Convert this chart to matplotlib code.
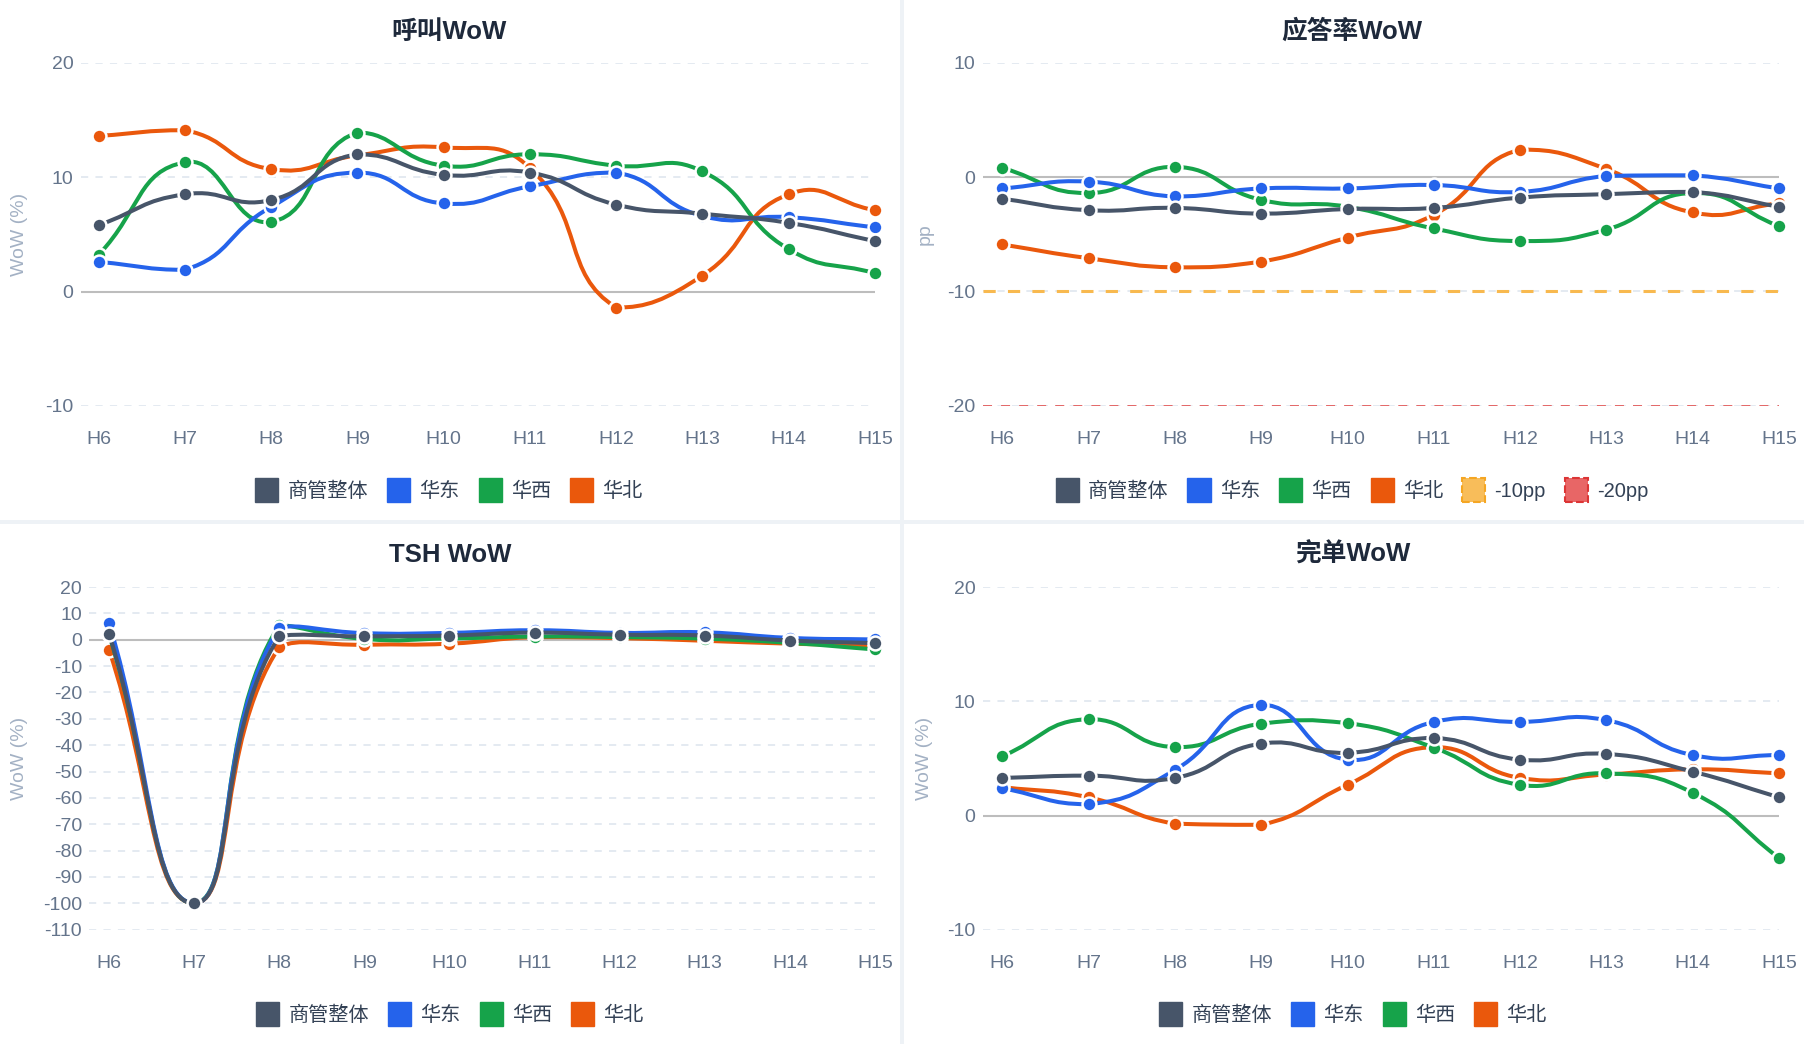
import numpy as np
import matplotlib
matplotlib.use('Agg')
import matplotlib.pyplot as plt
from matplotlib.path import Path
from matplotlib.patches import PathPatch, Patch, Rectangle

plt.rcParams['font.family'] = ['Liberation Sans', 'Noto Sans CJK SC', 'DejaVu Sans']

# ---- data ----
weeks = ['H6', 'H7', 'H8', 'H9', 'H10', 'H11', 'H12', 'H13', 'H14', 'H15']
series_names = ['商管整体', '华东', '华西', '华北']

call_overall = [5.8, 8.5, 8.0, 12.0, 10.2, 10.4, 7.6, 6.8, 6.0, 4.4]
call_east = [2.6, 1.9, 7.4, 10.4, 7.7, 9.2, 10.4, 6.6, 6.5, 5.6]
call_west = [3.2, 11.3, 6.1, 13.9, 11.0, 12.0, 11.0, 10.5, 3.7, 1.6]
call_north = [13.6, 14.1, 10.7, 11.9, 12.6, 10.8, -1.4, 1.4, 8.5, 7.1]

ans_overall = [-1.9, -2.9, -2.7, -3.2, -2.8, -2.7, -1.8, -1.5, -1.3, -2.6]
ans_east = [-1.0, -0.4, -1.7, -1.0, -1.0, -0.7, -1.3, 0.1, 0.15, -1.0]
ans_west = [0.8, -1.4, 0.9, -2.0, -2.6, -4.5, -5.6, -4.6, -1.4, -4.3]
ans_north = [-5.9, -7.1, -7.9, -7.4, -5.3, -3.3, 2.4, 0.7, -3.1, -2.3]

tsh_overall = [2.3, -100, 1.3, 1.3, 1.6, 2.7, 1.9, 1.6, -0.3, -1.3]
tsh_east = [6.4, -100, 4.5, 2.5, 2.6, 3.6, 2.6, 2.8, 0.7, 0.1]
tsh_west = [2.0, -100, 5.5, 0.3, 0.5, 1.2, 1.0, 0.4, -1.2, -3.7]
tsh_north = [-3.8, -100, -2.8, -1.9, -1.5, 1.0, 0.6, -0.4, -1.5, -2.2]

done_overall = [3.3, 3.5, 3.3, 6.3, 5.5, 6.8, 4.9, 5.4, 3.85, 1.6]
done_east = [2.4, 1.0, 4.0, 9.7, 4.9, 8.2, 8.2, 8.35, 5.3, 5.3]
done_west = [5.2, 8.45, 6.0, 8.05, 8.1, 5.95, 2.7, 3.7, 2.0, -3.7]
done_north = [2.5, 1.6, -0.7, -0.8, 2.7, 6.0, 3.3, 3.6, 4.05, 3.7]

ref_levels = [-10, -20]
ref_names = ['-10pp', '-20pp']

colors = ['#475569', '#2563eb', '#16a34a', '#ea580c']
zorders = [5, 4, 3, 2]
tick_color = '#64748b'
label_color = '#a3b1c4'
grid_color = '#e2e8f0'

W, H = 1804, 1044
fig = plt.figure(figsize=(W / 100, H / 100), dpi=100)
fig.patch.set_facecolor('#eef2f6')

# white panels behind the axes
for (x0, y0, w, h) in [(0, 0, 900, 520), (904, 0, 900, 520),
                       (0, 524, 900, 520), (904, 524, 900, 520)]:
    fig.patches.append(Rectangle((x0 / W, 1 - (y0 + h) / H), w / W, h / H,
                                 transform=fig.transFigure, facecolor='white',
                                 edgecolor='none', zorder=-5))


def smooth_line(ax, xs, ys, color, z, smooth=0.5):
    # bezier smoothing in screen space (echarts-like)
    pts = ax.transData.transform(np.column_stack([xs, ys]))
    n = len(pts)
    lo = pts.min(axis=0)
    hi = pts.max(axis=0)
    cin = pts.copy()
    cout = pts.copy()
    for i in range(n):
        p = pts[i]
        prev = pts[i - 1] if i > 0 else p
        nxt = pts[i + 1] if i < n - 1 else p
        v = (nxt - prev) * smooth
        d0 = np.hypot(*(p - prev))
        d1 = np.hypot(*(p - nxt))
        s = d0 + d1
        if s > 0:
            d0, d1 = d0 / s, d1 / s
        cin[i] = np.clip(p - v * d0, lo, hi)
        cout[i] = np.clip(p + v * d1, lo, hi)
    verts = [pts[0]]
    codes = [Path.MOVETO]
    for i in range(n - 1):
        verts += [cout[i], cin[i + 1], pts[i + 1]]
        codes += [Path.CURVE4] * 3
    verts = ax.transData.inverted().transform(np.array(verts))
    ax.add_patch(PathPatch(Path(verts, codes), fill=False, edgecolor=color,
                           lw=2.9, zorder=z, capstyle='round', joinstyle='round',
                           clip_on=False))
    ax.plot(xs, ys, 'o', color=color, markersize=10, markeredgecolor='white',
            markeredgewidth=1.8, zorder=z + 0.1, clip_on=False)


def make_panel(rect, title, title_xy, ylabel, ylabel_x, ylim, yticks, left_pad,
               data, legend_y, legend_x, refs=False):
    l, r, t, b = rect
    ax = fig.add_axes([l / W, 1 - b / H, (r - l) / W, (b - t) / H])
    ax.patch.set_alpha(0)
    ax.set_xlim(-left_pad, len(weeks) - 1)
    ax.set_ylim(*ylim)
    for s in ax.spines.values():
        s.set_visible(False)
    ax.set_yticks(yticks)
    ax.set_yticklabels([str(v) for v in yticks])
    ax.set_xticks(range(len(weeks)))
    ax.set_xticklabels(weeks)
    ax.tick_params(axis='both', length=0, labelsize=14, colors=tick_color)
    ax.tick_params(axis='y', pad=5)
    ax.tick_params(axis='x', pad=18)
    for v in yticks:
        if v != 0:
            ax.axhline(v, color=grid_color, lw=1.3, ls=(0, (4, 4)), zorder=1)
    ax.axhline(0, color='#bdbdbd', lw=1.5, zorder=1.5)

    xs = np.arange(len(weeks))
    for name, ys, c, z in zip(series_names, data, colors, zorders):
        smooth_line(ax, xs, ys, c, z)

    handles = [Patch(facecolor=c, edgecolor=c, label=nm)
               for nm, c in zip(series_names, colors)]
    if refs:
        ax.axhline(ref_levels[0], color='#f8b94f', lw=2.2, ls=(0, (4, 4)), zorder=1.8)
        ax.axhline(ref_levels[1], color='#e25c5c', lw=1.3, ls=(0, (5, 5)), zorder=1.8)
        handles.append(Patch(facecolor='#f8bd5a', edgecolor='#f5a623', ls='--',
                             lw=1.5, label=ref_names[0]))
        handles.append(Patch(facecolor='#e86666', edgecolor='#dc3535', ls='--',
                             lw=1.5, label=ref_names[1]))

    fig.text(title_xy[0] / W, 1 - title_xy[1] / H, title, ha='center', va='center',
             fontsize=18.5, fontweight='bold', color='#1e293b')
    fig.text(ylabel_x / W, 1 - (t + b) / 2 / H, ylabel, rotation=90, ha='center',
             va='center', fontsize=14, color=label_color)
    fig.legend(handles=handles, loc='center',
               bbox_to_anchor=(legend_x / W, 1 - legend_y / H),
               ncol=len(handles), frameon=False, fontsize=14.5,
               handlelength=1.15, handleheight=1.45, handletextpad=0.45,
               columnspacing=0.95, labelcolor='#334155')
    return ax


make_panel((80.5, 875, 62.7, 406), '呼叫WoW', (449, 32), 'WoW (%)', 20,
           (-10, 20), [-10, 0, 10, 20], 0.21,
           [call_overall, call_east, call_west, call_north], 490, 449)

make_panel((982.5, 1779, 62.7, 405.7), '应答率WoW', (1352, 32), 'pp', 925,
           (-20, 10), [-20, -10, 0, 10], 0.23,
           [ans_overall, ans_east, ans_west, ans_north], 490, 1352, refs=True)

make_panel((89, 875, 587, 929.7), 'TSH WoW', (450, 555), 'WoW (%)', 20,
           (-110, 20), list(range(-110, 21, 10)), 0.235,
           [tsh_overall, tsh_east, tsh_west, tsh_north], 1014, 450)

make_panel((982.5, 1779, 587, 930), '完单WoW', (1353, 555), 'WoW (%)', 925,
           (-10, 20), [-10, 0, 10, 20], 0.23,
           [done_overall, done_east, done_west, done_north], 1014, 1353)

fig.savefig('out.png', dpi=100, facecolor=fig.get_facecolor())
